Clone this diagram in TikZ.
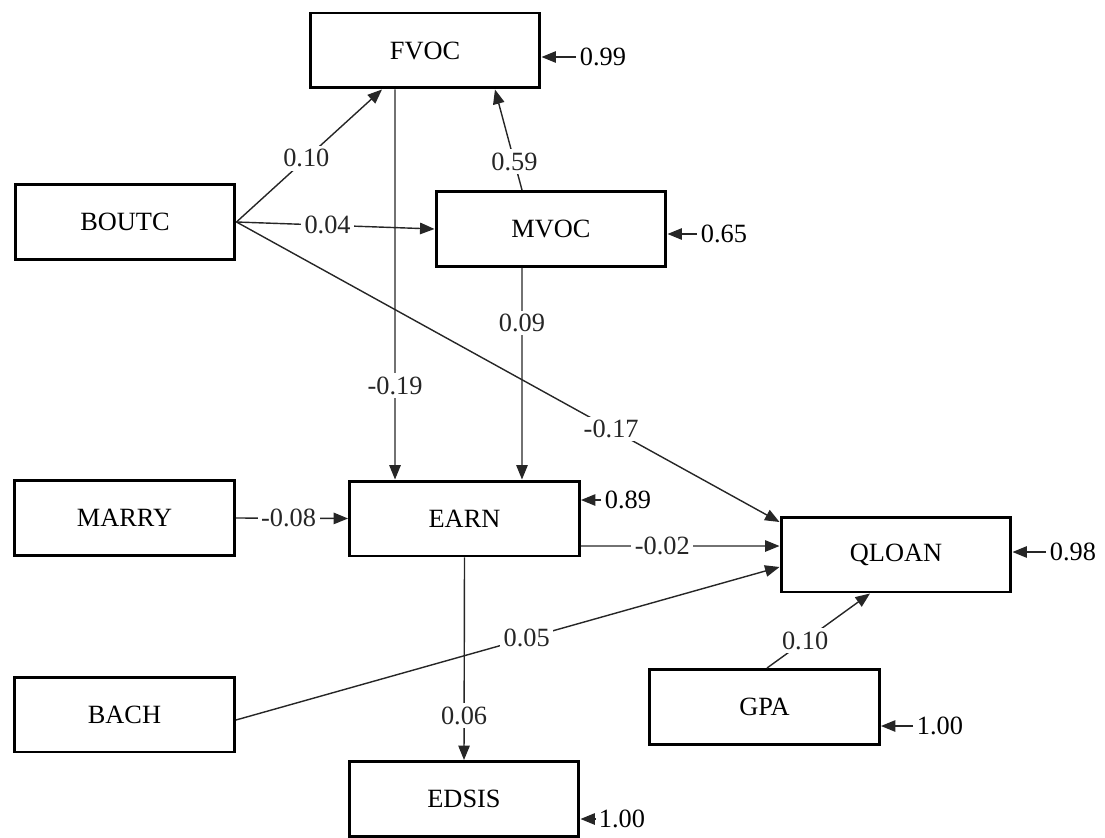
\documentclass[tikz,border=0pt]{standalone}
\usepackage{fontspec}
\setmainfont{Liberation Serif}
\usetikzlibrary{positioning,arrows.meta}

\begin{document}
\begin{tikzpicture}[
  x=0.02cm, y=-0.02cm,
  every node/.style={font=\fontsize{15}{17}\selectfont},
  var/.style ={rectangle,draw=black,line width=1.7pt,minimum width=4.6cm,
               minimum height=1.5cm,inner sep=2pt,fill=white},
  exo/.style ={var,minimum width=4.4cm},
  arr/.style ={-{Triangle[length=2.9mm,width=2.3mm]},line width=0.8pt,black!85},
  lab/.style ={fill=white,inner sep=2pt},
  res/.style ={inner sep=2pt},
]
\useasboundingbox (0,0) rectangle (1105,838);

\node[var]  at (425,  50.5) (fvoc)  {FVOC};
\node[exo]  at (125,   222) (boutc) {BOUTC};
\node[var]  at (551,   229) (mvoc)  {MVOC};
\node[exo]  at (124.5, 518) (marry) {MARRY};
\node[var]  at (464.5, 518.5) (earn) {EARN};
\node[var]  at (896, 554.5) (qloan) {QLOAN};
\node[exo]  at (124.5, 714.5) (bach) {BACH};
\node[var]  at (764.5, 707) (gpa)   {GPA};
\node[var]  at (464,   799) (edsis) {EDSIS};

\node[res]  at (603,  57)  (rfvoc)  {0.99};
\node[res]  at (724,  234) (rmvoc)  {0.65};
\node[res]  at (628,  500) (rearn)  {0.89};
\node[res]  at (1073, 552) (rqloan) {0.98};
\node[res]  at (940,  726) (rgpa)   {1.00};
\node[res]  at (622,  819) (redsis) {1.00};

\draw[arr] (rfvoc.west)  -- (rfvoc.west -| fvoc.east);
\draw[arr] (rmvoc.west)  -- (rmvoc.west -| mvoc.east);
\draw[arr] (rearn.west)  -- (rearn.west -| earn.east);
\draw[arr] (rqloan.west) -- (rqloan.west -| qloan.east);
\draw[arr] (rgpa.west)   -- (rgpa.west -| gpa.east);
\draw[arr] (redsis.west) -- (redsis.west -| edsis.east);

\draw[arr] (boutc.east) -- node[lab,pos=0.48]{0.10} ([xshift=-0.86cm]fvoc.south);
\draw[arr] (boutc.east) -- node[lab,pos=0.46]{0.04} (mvoc.west);
\draw[arr] (boutc.east) -- node[lab,pos=0.69]{-0.17} ([yshift=0.65cm]qloan.west);
\draw[arr] ([xshift=-0.58cm]mvoc.north)
  -- node[lab,pos=0.28]{0.59} ([xshift=1.4cm]fvoc.south);
\draw[arr] ([xshift=-0.6cm]fvoc.south)
  -- node[lab,pos=0.76]{-0.19} ([xshift=-1.39cm]earn.north);
\draw[arr] ([xshift=-0.58cm]mvoc.south)
  -- node[lab,pos=0.26]{0.09} ([xshift=1.15cm]earn.north);
\draw[arr] (marry.east) -- node[lab,pos=0.47]{-0.08} (earn.west);
\draw[arr] ([yshift=-0.55cm]earn.east)
  -- node[lab,pos=0.41]{-0.02} ([yshift=0.17cm]qloan.west);
\draw[arr] ([yshift=-0.11cm]bach.east)
  -- node[lab,pos=0.535]{0.05} ([yshift=-0.25cm]qloan.west);
\draw[arr] (earn.south) -- node[lab,pos=0.78]{0.06} (edsis.north);
\draw[arr] ([xshift=0.05cm]gpa.north)
  -- node[lab,pos=0.37]{0.10} ([xshift=-0.52cm]qloan.south);
\end{tikzpicture}
\end{document}
